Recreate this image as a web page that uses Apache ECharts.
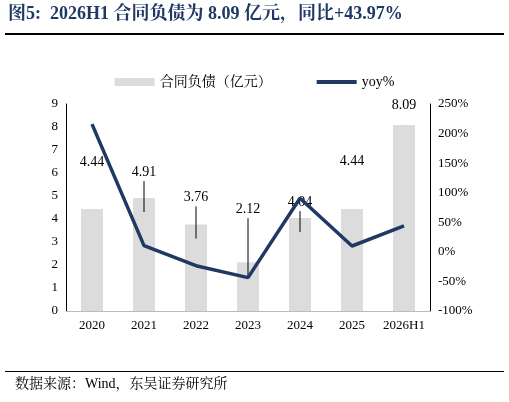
<!DOCTYPE html><html><head><meta charset="utf-8"><script src="https://cdn.jsdelivr.net/npm/echarts@6/dist/echarts.min.js"></script></head><body style="margin:0"><div id="c" style="width:509px;height:402px"></div><script>
const categories=['2020','2021','2022','2023','2024','2025','2026H1'];
const contractLiab=[4.44,4.91,3.76,2.12,4.04,4.44,8.09];
const yoy=[216,10.6,-23.4,-43.6,90.6,9.9,43.97];
const labelLift=[47,26,27,53,16,48,20];
const leader=[0,1,1,1,1,0,0];
const ff='"Times New Roman","Liberation Serif","Noto Serif CJK SC",serif';
const ch=echarts.init(document.getElementById('c'));
ch.setOption({animation:false,
graphic:[
{type:'text',left:8,top:5,style:{text:'图5:  2026H1 合同负债为 8.09 亿元，同比+43.97%',font:'bold 18px '+ff,fill:'#1f3864'}},
{type:'rect',shape:{x:5,y:33,width:499,height:2},style:{fill:'#000'}},
{type:'rect',shape:{x:5,y:371,width:499,height:1},style:{fill:'#000'}},
{type:'text',left:15,top:377,style:{text:'数据来源：Wind，东吴证券研究所',font:'14px '+ff,fill:'#000'}}
],
legend:{top:70,left:'center',itemGap:45,itemWidth:40,itemHeight:8,textStyle:{fontFamily:ff,fontSize:14,color:'#000'},data:[{name:'合同负债（亿元）',icon:'rect'},{name:'yoy%',icon:'path://M0,0H40V4H0Z'}]},
grid:{left:66,right:79,top:104,bottom:91},
xAxis:{type:'category',data:categories,axisTick:{show:false},axisLine:{lineStyle:{color:'#bbb'}},axisLabel:{interval:0,color:'#000',fontFamily:ff,fontSize:13}},
yAxis:[{type:'value',min:0,max:9,interval:1,splitLine:{show:false},axisLine:{show:true,lineStyle:{color:'#000'}},axisLabel:{color:'#000',fontFamily:ff,fontSize:13}},
{type:'value',min:-100,max:250,interval:50,splitLine:{show:false},axisLine:{show:true,lineStyle:{color:'#000'}},axisLabel:{color:'#000',fontFamily:ff,fontSize:13,formatter:'{value}%'}}],
series:[
{name:'合同负债（亿元）',type:'bar',data:contractLiab,barWidth:22,itemStyle:{color:'#dcdcdc'}},
{name:'labels',type:'custom',data:contractLiab.map((v,i)=>[i,v]),z:5,renderItem:(p,api)=>{const i=api.value(0);const pt=api.coord([i,api.value(1)]);const ly=pt[1]-labelLift[i];const ch=[{type:'text',style:{text:contractLiab[i].toFixed(2),x:pt[0],y:ly,align:'center',verticalAlign:'middle',font:'14px '+ff,fill:'#000'}}];if(leader[i])ch.push({type:'line',shape:{x1:pt[0],y1:ly+9,x2:pt[0],y2:pt[1]+14},style:{stroke:'#000',lineWidth:1}});return{type:'group',children:ch};}},
{name:'yoy%',type:'line',yAxisIndex:1,data:yoy,symbol:'none',lineStyle:{color:'#1f3864',width:3.5},itemStyle:{color:'#1f3864'},z:6}
]});
</script></body></html>
